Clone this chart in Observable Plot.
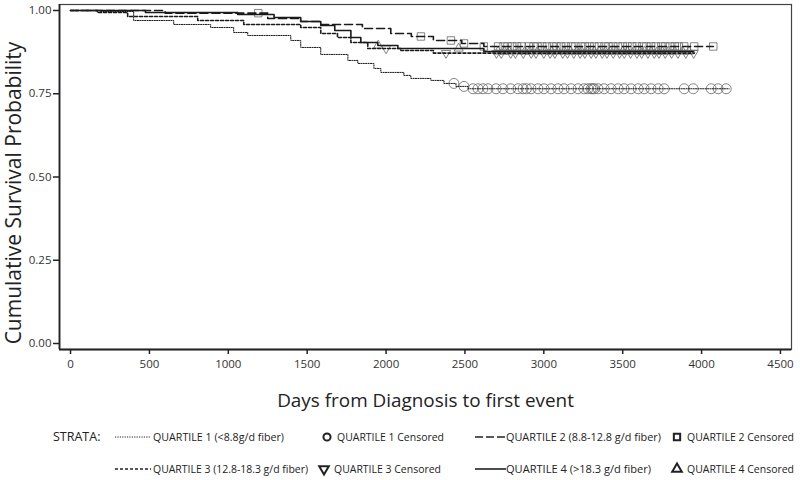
<!DOCTYPE html>
<html><head><meta charset="utf-8">
<script src="https://cdn.jsdelivr.net/npm/d3@7"></script>
<script src="https://cdn.jsdelivr.net/npm/@observablehq/plot@0.6"></script>
<style>
body{margin:0;background:#fff;font-family:"Open Sans",sans-serif;}
#wrap{position:relative;width:800px;height:480px;overflow:hidden;}
#chart{position:absolute;left:0;top:0;}
#legend{position:absolute;left:0;top:420px;}
</style></head><body>
<div id="wrap"><div id="chart"></div><svg id="legend" width="800" height="60"></svg></div>
<script>
// ---- data ----
const xTicks = [0, 500, 1000, 1500, 2000, 2500, 3000, 3500, 4000, 4500];
const yTicks = [0, 0.25, 0.5, 0.75, 1.0];
const xLabel = "Days from Diagnosis to first event";
const yLabel = "Cumulative Survival Probability";

const q1Days = [0, 190, 400, 654, 888, 1034, 1123, 1396, 1459, 1586, 1758, 1821, 1923, 1967, 2113, 2157, 2284, 2367, 2443, 2520, 4175];
const q1Surv = [1.0, 0.997, 0.970, 0.958, 0.949, 0.934, 0.925, 0.910, 0.889, 0.868, 0.850, 0.841, 0.826, 0.814, 0.805, 0.796, 0.790, 0.781, 0.772, 0.765, 0.765];
const q2Days = [0, 600, 1250, 1459, 1586, 1850, 2030, 2160, 2300, 2480, 2620, 4075];
const q2Surv = [1.0, 0.992, 0.976, 0.967, 0.958, 0.946, 0.931, 0.922, 0.910, 0.901, 0.892, 0.892];
const q3Days = [0, 170, 362, 806, 1098, 1459, 1586, 1692, 1777, 1884, 2094, 2300, 3955];
const q3Surv = [1.0, 0.994, 0.982, 0.970, 0.958, 0.949, 0.931, 0.919, 0.904, 0.886, 0.880, 0.872, 0.872];
const q4Days = [0, 475, 1060, 1290, 1459, 1586, 1675, 1777, 1840, 1948, 2075, 2620, 3950];
const q4Surv = [1.0, 0.994, 0.988, 0.979, 0.967, 0.955, 0.940, 0.919, 0.904, 0.895, 0.886, 0.877, 0.877];

const q1Censored = [2430, 2494, 2551, 2583, 2614, 2646, 2697, 2741, 2790, 2836, 2868, 2890, 2919, 2963, 3001, 3046, 3090, 3128, 3173, 3217, 3255, 3280, 3300, 3310, 3320, 3344, 3382, 3426, 3471, 3509, 3553, 3598, 3636, 3680, 3725, 3763, 3890, 3947, 4061, 4105, 4156];
const q2Censored = [1190, 2221, 2411, 2494, 2620, 2710, 2745, 2770, 2800, 2830, 2860, 2905, 2935, 2960, 2990, 3020, 3055, 3080, 3110, 3140, 3175, 3200, 3235, 3260, 3290, 3320, 3350, 3385, 3410, 3440, 3470, 3500, 3530, 3560, 3590, 3625, 3650, 3680, 3710, 3745, 3770, 3800, 3830, 3855, 3890, 3953, 4074];
const q3Censored = [2000, 2380, 2700, 2730, 2790, 2820, 2870, 2920, 2950, 3000, 3040, 3070, 3120, 3150, 3190, 3230, 3260, 3300, 3330, 3370, 3400, 3440, 3480, 3510, 3550, 3590, 3620, 3660, 3700, 3730, 3770, 3810, 3850, 3900, 3950];
const q4Censored = [1950, 2460, 2710, 2750, 2780, 2840, 2880, 2910, 2960, 3010, 3050, 3090, 3130, 3170, 3210, 3240, 3280, 3320, 3350, 3390, 3420, 3460, 3500, 3530, 3570, 3610, 3640, 3680, 3720, 3750, 3790, 3830, 3880, 3920];

const strata = ["QUARTILE 1 (<8.8g/d fiber)", "QUARTILE 2 (8.8-12.8 g/d fiber)", "QUARTILE 3 (12.8-18.3 g/d fiber)", "QUARTILE 4 (>18.3 g/d fiber)"];
const censorLabels = ["QUARTILE 1 Censored", "QUARTILE 2 Censored", "QUARTILE 3 Censored", "QUARTILE 4 Censored"];

// ---- build tables ----
function curve(days, surv) { return days.map((d, i) => ({day: d, s: surv[i]})); }
function stepAt(days, surv, t) { let s = surv[0]; for (let i = 0; i < days.length; i++) if (days[i] <= t) s = surv[i]; return s; }
function cens(list, days, surv) { return list.map(t => ({day: t, s: stepAt(days, surv, t)})); }

const series = [
  {c: curve(q1Days, q1Surv), dash: "1.2,1.2", w: 1.0, cz: cens(q1Censored, q1Days, q1Surv), sym: "circle", r: 5},
  {c: curve(q2Days, q2Surv), dash: "8,4", w: 1.6, cz: cens(q2Censored, q2Days, q2Surv), sym: "square", r: 4.2},
  {c: curve(q3Days, q3Surv), dash: "3,2", w: 1.6, cz: cens(q3Censored, q3Days, q3Surv), sym: "triangle", r: 3.4, rot: 180},
  {c: curve(q4Days, q4Surv), dash: null, w: 1.6, cz: cens(q4Censored, q4Days, q4Surv), sym: "triangle", r: 3.4, rot: 0}
];

const marks = [
  Plot.frame({stroke: "#444", strokeWidth: 1.2}),
  Plot.ruleX([-70], {stroke: "#222", strokeWidth: 1.8}),
  Plot.ruleY([-0.018], {stroke: "#222", strokeWidth: 1.8}),
  Plot.axisX(xTicks, {tickSize: 5, tickPadding: 5, fontSize: 11.5, label: null, tickFormat: d => String(d), stroke: "#222", strokeWidth: 1.5, fill: "#333"}),
  Plot.axisY(yTicks, {tickSize: 6, tickPadding: 2, fontSize: 11.5, label: null, tickFormat: d => d.toFixed(2), stroke: "#222", strokeWidth: 1.5, fill: "#333"}),
  Plot.text([xLabel], {text: d => d, frameAnchor: "bottom", dy: 51, fontSize: 18.9, fill: "#222", lineAnchor: "middle"}),
  Plot.text([yLabel], {text: d => d, frameAnchor: "left", dx: -45, dy: 16, rotate: -90, textAnchor: "middle", lineAnchor: "middle", fontSize: 21, fill: "#222"})
];
for (const sr of series) {
  marks.push(Plot.dot(sr.cz, {x: "day", y: "s", symbol: sr.sym, r: sr.r, stroke: "#666", strokeWidth: 0.8, fill: "none", rotate: sr.rot || 0}));
}
for (const sr of series) {
  marks.push(Plot.line(sr.c, {x: "day", y: "s", curve: "step-after", stroke: "#1a1a1a", strokeWidth: sr.w, strokeDasharray: sr.dash}));
}

const chart = Plot.plot({
  width: 800, height: 420,
  marginLeft: 59, marginRight: 9, marginTop: 4, marginBottom: 71,
  x: {domain: [-70, 4570]},
  y: {domain: [-0.018, 1.018]},
  style: {fontFamily: "'Open Sans', sans-serif", color: "#333", background: "#fff"},
  marks
});
document.getElementById("chart").appendChild(chart);

// ---- legend ----
const lg = d3.select("#legend");
const fs = 11;
lg.append("text").attr("x", 53).attr("y", 17).attr("dy", "0.35em").attr("font-size", 12.5).attr("fill", "#222").text("STRATA:");
const rows = [17, 49];
const lineItems = [
  {x1: 115, x2: 151, y: rows[0], dash: "1.2,1.2", w: 1, t: strata[0], tx: 153, len: 131},
  {x1: 475, x2: 506, y: rows[0], dash: "8,3", w: 1.6, t: strata[1], tx: 506, len: 155},
  {x1: 115, x2: 151, y: rows[1], dash: "3,2", w: 1.6, t: strata[2], tx: 153, len: 155},
  {x1: 475, x2: 506, y: rows[1], dash: null, w: 1.6, t: strata[3], tx: 506, len: 145}
];
for (const it of lineItems) {
  lg.append("line").attr("x1", it.x1).attr("x2", it.x2).attr("y1", it.y).attr("y2", it.y)
    .attr("stroke", "#222").attr("stroke-width", it.w).attr("stroke-dasharray", it.dash);
  lg.append("text").attr("x", it.tx).attr("y", it.y).attr("dy", "0.35em").attr("font-size", fs).attr("fill", "#222")
    .attr("textLength", it.len).attr("lengthAdjust", "spacingAndGlyphs").text(it.t);
}
const symItems = [
  {x: 327, y: rows[0], sym: d3.symbolCircle, rot: 0, t: censorLabels[0]},
  {x: 677, y: rows[0], sym: d3.symbolSquare, rot: 0, t: censorLabels[1]},
  {x: 324, y: rows[1], sym: d3.symbolTriangle, rot: 180, t: censorLabels[2]},
  {x: 677, y: rows[1], sym: d3.symbolTriangle, rot: 0, t: censorLabels[3]}
];
for (const it of symItems) {
  lg.append("path").attr("d", d3.symbol(it.sym, 40)())
    .attr("transform", `translate(${it.x},${it.y}) rotate(${it.rot})`)
    .attr("fill", "none").attr("stroke", "#222").attr("stroke-width", 2);
  lg.append("text").attr("x", it.x + 10).attr("y", it.y).attr("dy", "0.35em").attr("font-size", fs).attr("fill", "#222")
    .attr("textLength", 107).attr("lengthAdjust", "spacingAndGlyphs").text(it.t);
}
</script>
</body></html>
